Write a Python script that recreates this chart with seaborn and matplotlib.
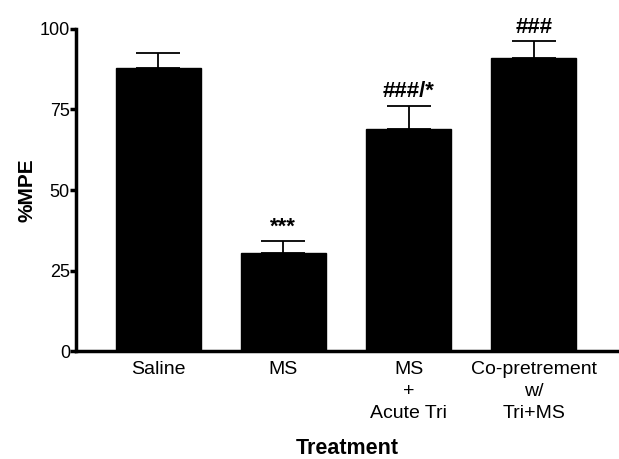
import matplotlib
matplotlib.use("Agg")
import matplotlib.pyplot as plt
import seaborn as sns
import numpy as np

categories = ["Saline", "MS", "MS\n+\nAcute Tri", "Co-pretrement\nw/\nTri+MS"]
means = [88.0, 30.5, 69.0, 91.0]
sems = [4.6, 3.6, 7.0, 5.1]
annotations = ["", "***", "###/*", "###"]
yticks = [0, 25, 50, 75, 100]

sns.set_theme(style="ticks")
plt.rcParams["font.family"] = ["Liberation Sans", "DejaVu Sans"]
for k in ["text.color", "axes.labelcolor", "xtick.color", "ytick.color", "axes.edgecolor"]:
    plt.rcParams[k] = "black"

fig = plt.figure(figsize=(6.19, 4.59), dpi=100)
ax = fig.add_axes([0.123, 0.235, 0.877, 0.702])

sns.barplot(x=categories, y=means, color="black", width=0.68, errorbar=None,
            saturation=1, edgecolor="black", ax=ax)
x = np.arange(len(categories))
ax.errorbar(x, means, yerr=[np.zeros(len(sems)), sems], fmt="none",
            ecolor="black", elinewidth=1.3, capsize=16, capthick=1.3)

for xi, m, s, t in zip(x, means, sems, annotations):
    if t:
        ax.text(xi, m + s + 1.2, t, ha="center", va="bottom",
                fontsize=16, fontweight="bold")

ax.set_xlim(-0.655, 3.68)
ax.set_ylim(0, 100)
ax.set_yticks(yticks)
ax.set_yticklabels([str(v) for v in yticks], fontsize=13)
ax.tick_params(axis="y", direction="out", length=4, width=2.5, pad=0.5)
ax.tick_params(axis="x", length=0, labelsize=14, pad=7)
for lbl in ax.get_xticklabels():
    lbl.set_linespacing(1.4)
sns.despine(ax=ax, top=True, right=True)
ax.spines["left"].set_linewidth(2.5)
ax.spines["bottom"].set_linewidth(2.5)
ax.spines["left"].set_bounds(0, 100)
ax.set_ylabel("%MPE", fontsize=15, fontweight="bold", labelpad=2)
ax.set_xlabel("Treatment", fontsize=15.5, fontweight="bold", labelpad=11)
ax.set_facecolor("white")
fig.patch.set_facecolor("white")

fig.savefig("out.png", dpi=100)
